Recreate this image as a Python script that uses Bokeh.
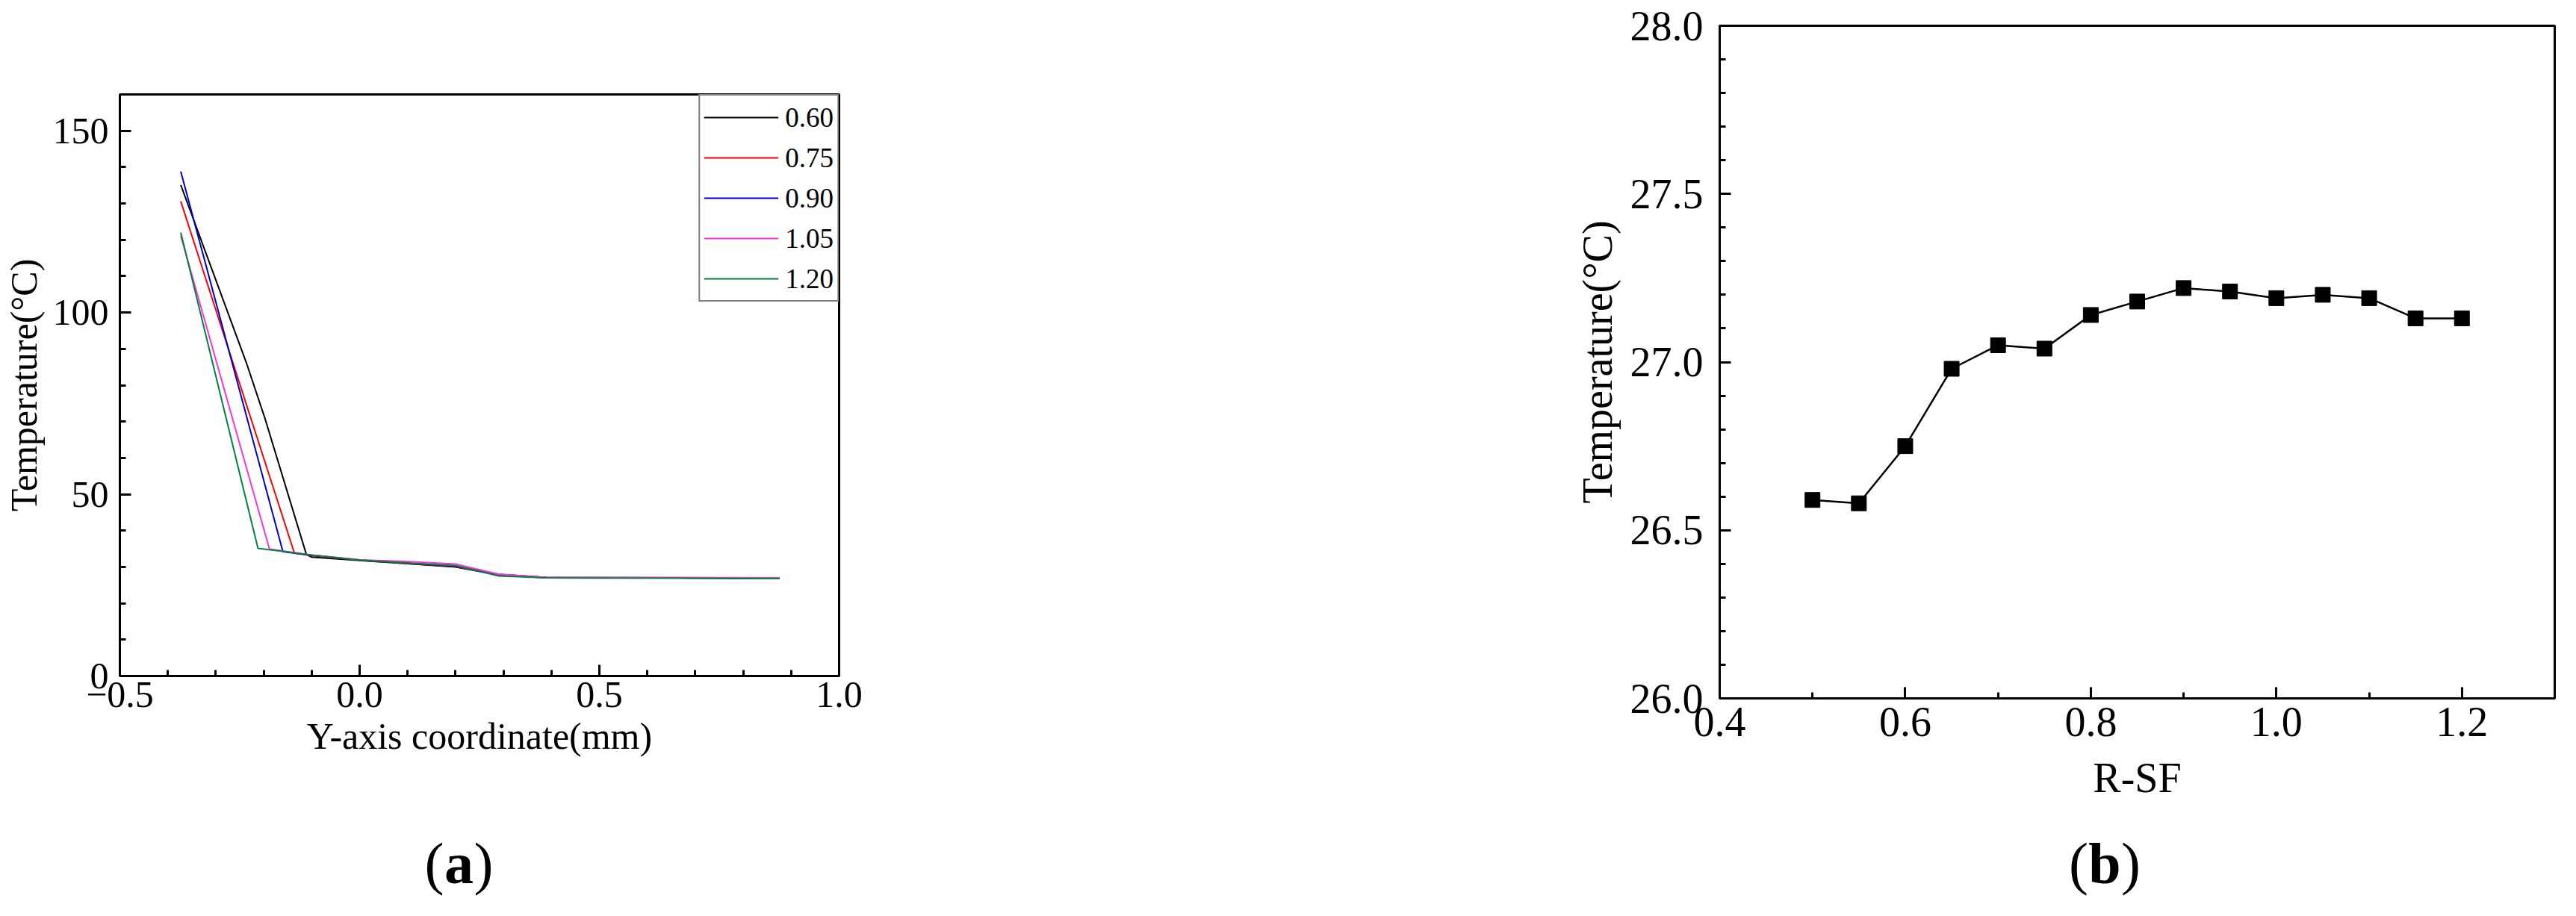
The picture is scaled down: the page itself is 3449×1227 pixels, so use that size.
from bokeh.plotting import figure
from bokeh.layouts import row, column
from bokeh.models import (Range1d, SingleIntervalTicker, CustomJSTickFormatter,
                          Legend, LegendItem, Spacer)
from bokeh.core.properties import value
from bokeh.embed import file_html
from bokeh.resources import INLINE

FONT = "Liberation Serif"

# ---------------- Panel (a) data ----------------
series_labels = ["0.60", "0.75", "0.90", "1.05", "1.20"]
series_colors = ["#000000", "#FF0000", "#0000CC", "#FF33DD", "#00843C"]

x_060 = [-0.373, -0.236, -0.198, -0.111, -0.100, 0.000, 0.110, 0.200, 0.290, 0.390, 0.660, 0.876]
y_060 = [135.1, 86.1, 71.1, 33.4, 32.7, 31.8, 30.8, 30.0, 27.8, 27.0, 27.0, 26.8]
x_075 = [-0.373, -0.136, -0.100, 0.000, 0.110, 0.200, 0.290, 0.390, 0.660, 0.876]
y_075 = [130.6, 33.8, 33.1, 31.9, 30.9, 30.1, 27.9, 27.1, 27.0, 26.9]
x_090 = [-0.373, -0.160, -0.100, 0.000, 0.110, 0.200, 0.290, 0.390, 0.660, 0.876]
y_090 = [138.8, 34.2, 33.2, 31.9, 31.0, 30.2, 28.0, 27.1, 27.0, 26.9]
x_105 = [-0.373, -0.188, -0.100, 0.000, 0.110, 0.200, 0.290, 0.390, 0.660, 0.876]
y_105 = [121.1, 34.9, 33.3, 32.0, 31.4, 30.8, 28.0, 27.1, 27.1, 27.0]
x_120 = [-0.373, -0.212, -0.100, 0.000, 0.110, 0.200, 0.290, 0.390, 0.660, 0.876]
y_120 = [122.0, 35.1, 33.3, 31.9, 31.0, 30.4, 27.5, 27.0, 26.9, 26.8]

series_x = [x_060, x_075, x_090, x_105, x_120]
series_y = [y_060, y_075, y_090, y_105, y_120]

# ---------------- Panel (b) data ----------------
r_sf = [0.50, 0.55, 0.60, 0.65, 0.70, 0.75, 0.80, 0.85, 0.90, 0.95, 1.00, 1.05, 1.10, 1.15, 1.20]
temp_b = [26.59, 26.58, 26.75, 26.98, 27.05, 27.04, 27.14, 27.18, 27.22, 27.21, 27.19, 27.20, 27.19, 27.13, 27.13]

fmt_1dec = CustomJSTickFormatter(code="""
    const s = Math.abs(tick).toFixed(1);
    return (tick < -1e-9 ? "\\u2212" : "") + s;
""")
fmt_int = CustomJSTickFormatter(code="return Math.round(tick).toString();")

# ---------------- layout constants (pixels) ----------------
W1, W2 = 1650, 1783
TOTAL_H = 1211
TOP = 34          # top border of both plots
BOTTOM = 170      # bottom border of both plots
A_LEFT, A_FW, A_FH, A_SHIFT = 156, 967, 779, 92
B_LEFT, B_FW, B_FH = 652, 1118, 901
TAG_Y = 55        # tag centre above bottom of the tag strip
TAG_SIZE = "78px"


def style_axes(p, xfmt, yfmt, tick_size, title_size, lab_sx, lab_sy, tit_sx, tit_sy):
    for ax in (p.xaxis[0], p.yaxis[0]):
        ax.axis_line_width = 3
        ax.axis_line_color = "black"
        ax.major_tick_in = 15
        ax.major_tick_out = 0
        ax.minor_tick_in = 8
        ax.minor_tick_out = 0
        ax.major_tick_line_width = 3
        ax.minor_tick_line_width = 3
        ax.major_tick_line_color = "black"
        ax.minor_tick_line_color = "black"
        ax.major_label_text_font = FONT
        ax.major_label_text_font_size = tick_size
        ax.major_label_text_color = "black"
        ax.axis_label_text_font = FONT
        ax.axis_label_text_font_size = title_size
        ax.axis_label_text_font_style = "normal"
        ax.axis_label_text_color = "black"
    p.xaxis[0].formatter = xfmt
    p.yaxis[0].formatter = yfmt
    p.xaxis[0].major_label_standoff = lab_sx
    p.yaxis[0].major_label_standoff = lab_sy
    p.xaxis[0].axis_label_standoff = tit_sx
    p.yaxis[0].axis_label_standoff = tit_sy
    p.grid.visible = False
    p.outline_line_color = "black"
    p.outline_line_width = 3
    p.background_fill_color = "white"
    p.border_fill_color = "white"


def tag_strip(width, height, xr, left, right, letter, cx, half):
    t = figure(width=width, height=height, x_range=xr, y_range=Range1d(0, height),
               x_axis_type=None, y_axis_type=None, output_backend="svg",
               toolbar_location=None, min_border_left=left, min_border_right=right,
               min_border_top=0, min_border_bottom=0)
    t.grid.visible = False
    t.outline_line_color = None
    t.background_fill_color = "white"
    t.border_fill_color = "white"
    common = dict(text_font=value(FONT), text_font_size=value(TAG_SIZE),
                  text_baseline="middle", text_color="black")
    t.text(x=[cx], y=[TAG_Y], text=["("], text_align="right", x_offset=-half, **common)
    t.text(x=[cx], y=[TAG_Y], text=[letter], text_align="center",
           text_font_style="bold", **common)
    t.text(x=[cx], y=[TAG_Y], text=[")"], text_align="left", x_offset=half, **common)
    return t


# ---------------- Figure (a) ----------------
H1 = TOP + A_FH + BOTTOM
xr_a = Range1d(-0.5, 1.0)
p1 = figure(width=W1, height=H1, x_range=xr_a, y_range=Range1d(0, 160),
            output_backend="svg", toolbar_location=None,
            min_border_left=A_LEFT, min_border_right=W1 - A_LEFT - A_FW,
            min_border_top=TOP, min_border_bottom=BOTTOM,
            x_axis_label="Y-axis coordinate(mm)", y_axis_label="Temperature(°C)")
p1.xaxis[0].ticker = SingleIntervalTicker(interval=0.5, num_minor_ticks=5)
p1.yaxis[0].ticker = SingleIntervalTicker(interval=50, num_minor_ticks=5)
style_axes(p1, fmt_1dec, fmt_int, "50px", "50px", 8, 15, 8, 8)

items = []
for lab, col, xs, ys in zip(series_labels, series_colors, series_x, series_y):
    r = p1.line(xs, ys, line_color=col, line_width=2)
    items.append(LegendItem(label=lab, renderers=[r]))
legend = Legend(items=items, location="top_right", margin=0, padding=5,
                spacing=6, glyph_width=100, glyph_height=48, label_height=48,
                label_standoff=9, label_text_font=FONT, label_text_font_size="37px",
                label_text_color="black", border_line_color="black",
                border_line_width=2, background_fill_color="white",
                background_fill_alpha=1.0)
p1.add_layout(legend)

tag_a = tag_strip(W1, TOTAL_H - A_SHIFT - H1, xr_a, A_LEFT, W1 - A_LEFT - A_FW,
                  "a", 0.207, 20)

# ---------------- Figure (b) ----------------
H2 = TOP + B_FH + BOTTOM
xr_b = Range1d(0.4, 1.3)
p2 = figure(width=W2, height=H2, x_range=xr_b, y_range=Range1d(26.0, 28.0),
            output_backend="svg", toolbar_location=None,
            min_border_left=B_LEFT, min_border_right=W2 - B_LEFT - B_FW,
            min_border_top=TOP, min_border_bottom=BOTTOM,
            x_axis_label="R-SF", y_axis_label="Temperature(°C)")
p2.xaxis[0].ticker = SingleIntervalTicker(interval=0.2, num_minor_ticks=2)
p2.yaxis[0].ticker = SingleIntervalTicker(interval=0.5, num_minor_ticks=5)
style_axes(p2, fmt_1dec, fmt_1dec, "56px", "56px", 12, 22, 22, 10)

p2.line(r_sf, temp_b, line_color="black", line_width=2.5)
p2.scatter(r_sf, temp_b, marker="square", size=20, fill_color="black", line_color="black")

tag_b = tag_strip(W2, TOTAL_H - H2, xr_b, B_LEFT, W2 - B_LEFT - B_FW,
                  "b", 0.815, 22)

left_col = column(Spacer(width=W1, height=A_SHIFT), p1, tag_a)
right_col = column(p2, tag_b)
layout = row(left_col, right_col)
open("out.html", "w").write(file_html(layout, INLINE))
